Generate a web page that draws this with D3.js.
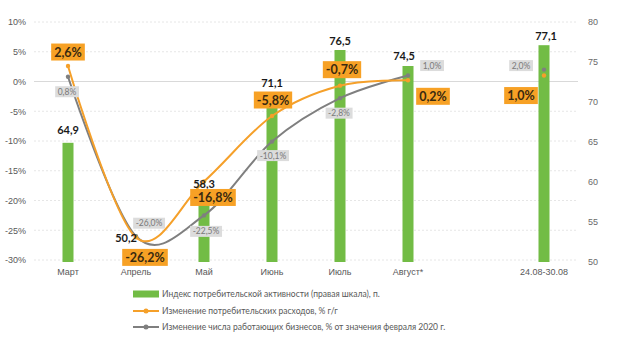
<!DOCTYPE html>
<html><head><meta charset="utf-8">
<script src="https://cdn.jsdelivr.net/npm/d3@7"></script>
<style>
body{margin:0;background:#fff;}
svg{display:block;font-family:Lato,"Open Sans",sans-serif;}
</style></head>
<body><svg id="c" width="620" height="341"></svg>
<script>
const categories = ["Март","Апрель","Май","Июнь","Июль","Август*","","24.08-30.08"];
const activityIndex = [64.9, 50.2, 58.3, 71.1, 76.5, 74.5, null, 77.1];
const spendingChange = [2.6, -26.2, -16.8, -5.8, -0.7, 0.2, null, 1.0];
const businessChange = [0.8, -26.0, -22.5, -10.1, -2.8, 1.0, null, 2.0];
const leftTicks = [10, 5, 0, -5, -10, -15, -20, -25, -30];
const rightTicks = [80, 75, 70, 65, 60, 55, 50];
const legendLabels = [
  "Индекс потребительской активности (правая шкала), п.",
  "Изменение потребительских расходов, % г/г",
  "Изменение числа работающих бизнесов, % от значения февраля 2020 г."
];

// label placement (layout only)
const barLabelOff = [[0,-13],[-10,-23],[0,-12],[0,-11],[0,-10],[-4,-11],null,[2,-10]];
const spendLabelOff = [[0,-14],[9,20],[9,16],[1,-16],[2,-16],[25,16],null,[-23,20]];
const bizLabelOff = [[-1,15],[13,-13],[2,16],[1,14],[-1,15],[24,-10],null,[-23,-4]];

const svg = d3.select("#c");
const X0 = 34, X1 = 578, YT = 22, YB = 260;
const x = d3.scaleBand().domain(d3.range(categories.length)).range([X0, X1]).padding(0);
const cx = i => x(i) + x.bandwidth()/2;
const yL = d3.scaleLinear().domain([-30, 10]).range([YB, YT]);
const yR = d3.scaleLinear().domain([50, 80]).range([YB+2, YT]);

const green = "#72bc45", orange = "#f5a02a", orangeBox = "#f7a125", gray = "#7f7f7f", grayBox = "#dcdcdc", txt = "#595959";
const fmt = v => d3.format(".1f")(v).replace(".", ",").replace("−","-");

// grid
svg.append("g").selectAll("line").data(leftTicks).join("line")
  .attr("x1", X0).attr("x2", X1)
  .attr("y1", d => yL(d)).attr("y2", d => yL(d))
  .attr("stroke", d => d === 0 ? "#d9d9d9" : "#e6e6e6")
  .attr("stroke-width", 1)
  .attr("stroke-dasharray", d => d === 0 ? null : "2,2");

// left axis
const axL = svg.append("g").attr("transform", `translate(${X0},0)`)
  .call(d3.axisLeft(yL).tickValues(leftTicks).tickSize(0).tickPadding(8).tickFormat(d => d + "%"));
axL.select(".domain").remove();
axL.selectAll("text").attr("fill", txt).attr("font-size", 9);

// right axis
const axR = svg.append("g").attr("transform", `translate(${X1},0)`)
  .call(d3.axisRight(yR).tickValues(rightTicks).tickSize(0).tickPadding(10));
axR.select(".domain").remove();
axR.selectAll("text").attr("fill", "#6a6a6a").attr("font-size", 9);

// x axis
const axB = svg.append("g").attr("transform", `translate(0,${YB+2})`)
  .call(d3.axisBottom(x).tickSize(0).tickPadding(7).tickFormat(i => categories[i]));
axB.select(".domain").remove();
axB.selectAll("text").attr("fill", txt).attr("font-size", 9);

// bars
const barW = 11;
const barData = activityIndex.map((v,i)=>({v,i})).filter(d => d.v != null);
svg.append("g").selectAll("rect").data(barData).join("rect")
  .attr("x", d => cx(d.i) - barW/2).attr("width", barW)
  .attr("y", d => yR(d.v)).attr("height", d => yR(50) - yR(d.v))
  .attr("fill", green);

// lines
const line = d3.line().defined(d => d.v != null).x(d => cx(d.i)).y(d => yL(d.v)).curve(d3.curveCardinal.tension(0));
function drawSeries(vals, color){
  const data = vals.map((v,i)=>({v,i}));
  svg.append("path").datum(data).attr("d", line).attr("fill","none").attr("stroke", color).attr("stroke-width", 2);
  svg.append("g").selectAll("circle").data(data.filter(d=>d.v!=null)).join("circle")
    .attr("cx", d => cx(d.i)).attr("cy", d => yL(d.v)).attr("r", 2.2).attr("fill", color);
}
drawSeries(businessChange, gray);
drawSeries(spendingChange, orange);

// bar labels
svg.append("g").selectAll("text").data(barData).join("text")
  .attr("x", d => cx(d.i) + barLabelOff[d.i][0])
  .attr("y", d => yR(d.v) + barLabelOff[d.i][1])
  .attr("text-anchor","middle").attr("dominant-baseline","central")
  .attr("font-size", 11).attr("font-weight","bold").attr("fill","#1a1a1a")
  .text(d => fmt(d.v));

function boxLabels(vals, offs, fs, bg, fg, padX, padY, weight){
  const g = svg.append("g");
  vals.forEach((v,i) => {
    if (v == null) return;
    const px = cx(i) + offs[i][0], py = yL(v) + offs[i][1];
    const t = g.append("text").attr("x", px).attr("y", py)
      .attr("text-anchor","middle").attr("dominant-baseline","central")
      .attr("font-size", fs).attr("font-weight", weight).attr("fill", fg)
      .text(fmt(v) + "%");
    const bb = t.node().getBBox();
    g.insert("rect", "text").attr("x", bb.x - padX).attr("y", py - bb.height/2 - padY + 0.5)
      .attr("width", bb.width + 2*padX).attr("height", bb.height + 2*padY - 1).attr("fill", bg);
  });
}
boxLabels(businessChange, bizLabelOff, 8.5, grayBox, "#7a7a7a", 2.5, 1, "normal");
boxLabels(spendingChange, spendLabelOff, 12.5, orangeBox, "#3a2a10", 3, 1.5, "bold");

// legend
const lg = svg.append("g");
const lx = 133, ly = [294, 311, 327];
lg.append("rect").attr("x", lx).attr("y", ly[0]-3.5).attr("width", 26).attr("height", 7).attr("fill", green);
[[orange,1],[gray,2]].forEach(([c,k]) => {
  lg.append("line").attr("x1", lx).attr("x2", lx+26).attr("y1", ly[k]).attr("y2", ly[k]).attr("stroke", c).attr("stroke-width", 2);
  lg.append("circle").attr("cx", lx+13).attr("cy", ly[k]).attr("r", 2.5).attr("fill", c);
});
lg.selectAll("text").data(legendLabels).join("text")
  .attr("x", lx+29).attr("y", (d,i) => ly[i]).attr("dominant-baseline","central")
  .attr("font-size", 8.5).attr("fill", txt).text(d => d);
</script></body></html>
